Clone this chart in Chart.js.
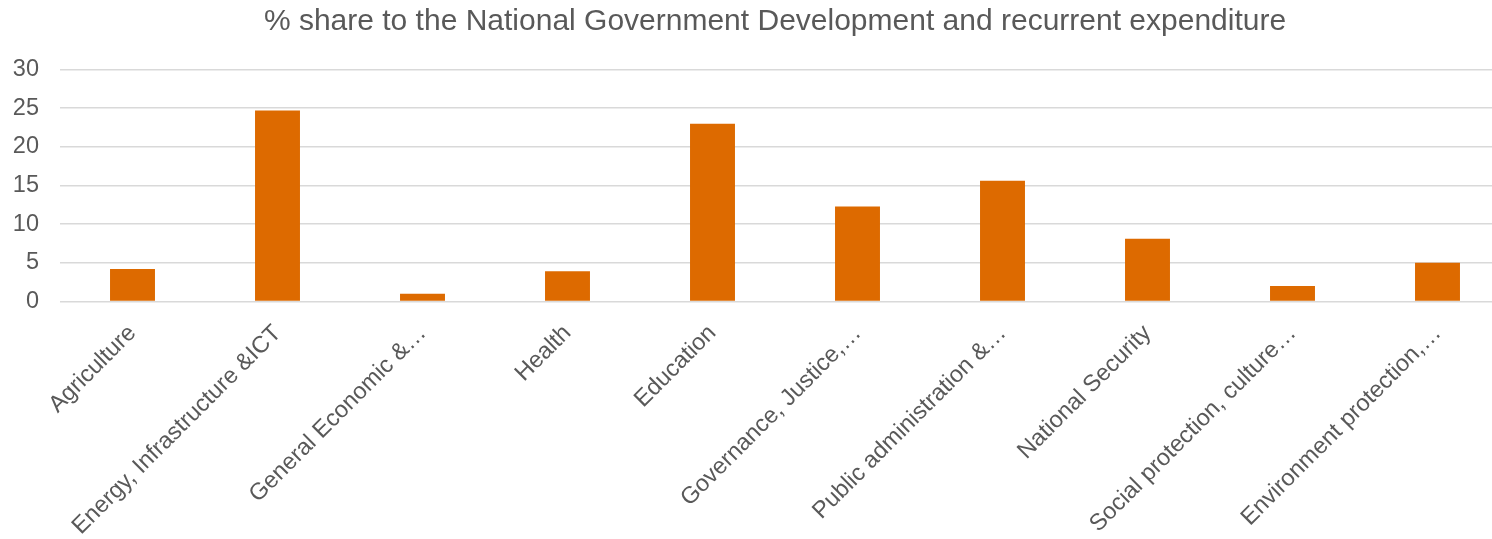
<!DOCTYPE html>
<html>
<head>
<meta charset="utf-8">
<script src="https://cdn.jsdelivr.net/npm/chart.js@4.4.0/dist/chart.umd.min.js"></script>
<style>
  html, body { margin: 0; padding: 0; background: #fff; overflow: hidden; }
  #wrap { width: 1550px; height: 539px; position: relative; }
</style>
</head>
<body>
<div id="wrap"><canvas id="chart"></canvas></div>
<script>
const categories = [
  'Agriculture',
  'Energy, Infrastructure &ICT',
  'General Economic &\u2026',
  'Health',
  'Education',
  'Governance, Justice,\u2026',
  'Public administration &\u2026',
  'National Security',
  'Social protection, culture\u2026',
  'Environment protection,\u2026'
];
const shares = [4.2, 24.7, 1.0, 3.9, 23.0, 12.3, 15.6, 8.1, 2.0, 5.0];
const yTicks = [0, 5, 10, 15, 20, 25, 30];

const titleText = '% share to the National Government Development and recurrent expenditure';
const textGrey = '#595959';
const barColor = '#dd6a00';

const ctx = document.getElementById('chart').getContext('2d');
new Chart(ctx, {
  type: 'bar',
  data: {
    labels: categories,
    datasets: [{
      label: '% share',
      data: shares,
      backgroundColor: barColor,
      categoryPercentage: 1,
      barPercentage: 0.31
    }]
  },
  options: {
    responsive: true,
    maintainAspectRatio: false,
    animation: false,
    layout: { padding: 0 },
    plugins: {
      legend: { display: false },
      tooltip: { enabled: false },
      title: {
        display: true,
        text: titleText,
        color: textGrey,
        font: { family: 'Liberation Sans, Arial, sans-serif', size: 30, weight: 'normal' },
        padding: { top: 4, bottom: 29.5 }
      }
    },
    scales: {
      x: {
        grid: { display: false },
        border: { display: false },
        ticks: {
          color: textGrey,
          font: { family: 'Liberation Sans, Arial, sans-serif', size: 23.5 },
          autoSkip: false,
          maxRotation: 45,
          minRotation: 45,
          padding: 10
        },
        afterFit: function (scale) { scale.height = 237.5; }
      },
      y: {
        min: 0,
        max: 30,
        afterBuildTicks: function (scale) { scale.ticks = yTicks.map(v => ({ value: v })); },
        grid: { color: '#d9d9d9', lineWidth: 1.5, drawTicks: false },
        border: { display: false },
        ticks: {
          color: textGrey,
          font: { family: 'Liberation Sans, Arial, sans-serif', size: 23.5 },
          padding: 21
        },
        afterFit: function (scale) { scale.width = 60; }
      },
      // empty right-hand margin so the title stays centred on the full width
      yRight: {
        position: 'right',
        min: 0,
        max: 30,
        grid: { display: false },
        border: { display: false },
        ticks: { display: false },
        afterFit: function (scale) { scale.width = 40; }
      }
    }
  }
});
</script>
</body>
</html>
